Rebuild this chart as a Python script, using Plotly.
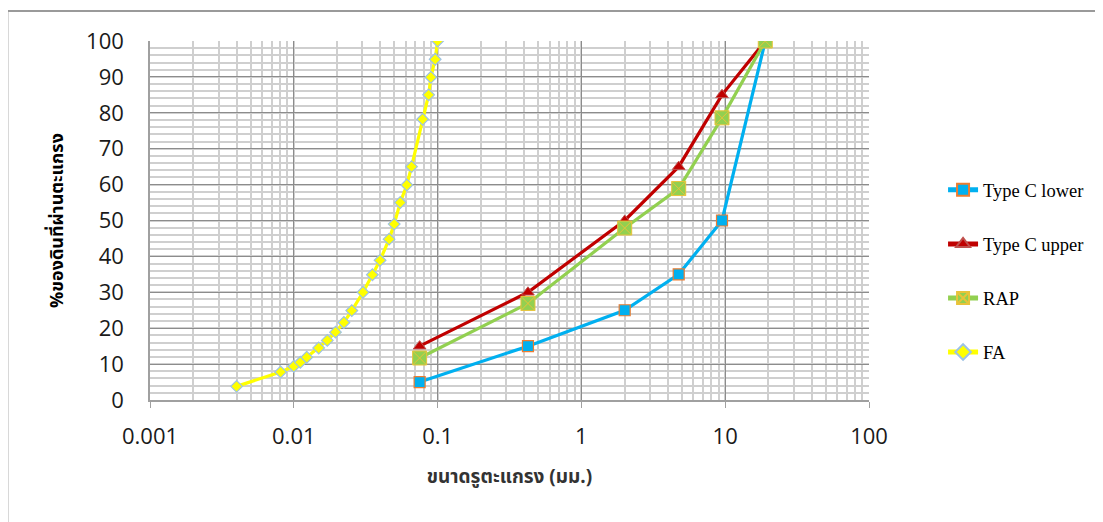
import plotly.graph_objects as go

# ---- data ----
sieve_typec = [0.075, 0.425, 2.0, 4.75, 9.5, 19.0]
typec_lower = [5, 15, 25, 35, 50, 100]
typec_upper = [15, 30, 50, 65, 85, 100]
rap_pass = [11.7, 26.9, 47.9, 58.9, 78.6, 100]

fa_size = [0.0040, 0.0081, 0.0100, 0.0111, 0.0123, 0.0149, 0.0171, 0.0195,
           0.0223, 0.0253, 0.0303, 0.0352, 0.0398, 0.0460, 0.0499, 0.0550,
           0.0611, 0.0659, 0.0787, 0.0866, 0.0898, 0.0962, 0.100]
fa_pass = [3.8, 7.8, 9.4, 10.5, 11.9, 14.5, 16.6, 18.9, 21.6, 24.9, 30.0,
           34.9, 38.9, 44.8, 49.0, 55.0, 59.9, 65.0, 78.2, 85.0, 89.9, 94.9, 100]

x_tickvals = [0.001, 0.01, 0.1, 1, 10, 100]
x_ticktext = ["0.001", "0.01", "0.1", "1", "10", "100"]
y_tickvals = [0, 10, 20, 30, 40, 50, 60, 70, 80, 90, 100]

series_names = ["Type C lower", "Type C upper", "RAP", "FA"]

THAI_FONT = "Noto Sans Thai, Tahoma, Loma, Garuda, DejaVu Sans, sans-serif"

fig = go.Figure()

fig.add_trace(go.Scatter(
    x=sieve_typec, y=typec_lower, name=series_names[0], legendgroup="a",
    mode="lines+markers",
    line=dict(color="#00B0F0", width=3.2),
    marker=dict(symbol="square", size=11, color="#00B0F0",
                line=dict(color="#ED7D31", width=1.2)),
))
fig.add_trace(go.Scatter(
    x=sieve_typec, y=typec_upper, name=series_names[1], legendgroup="b",
    mode="lines+markers",
    line=dict(color="#C00000", width=3.2),
    marker=dict(symbol="triangle-up", size=11, color="#C00000",
                line=dict(color="#C0504D", width=1)),
))
fig.add_trace(go.Scatter(
    x=sieve_typec, y=rap_pass, name=series_names[2], legendgroup="c",
    mode="lines+markers",
    line=dict(color="#92D050", width=3.2),
    marker=dict(symbol="square-x", size=14, color="#92D050",
                line=dict(color="#E8C33A", width=1)),
))
fig.add_trace(go.Scatter(
    x=fa_size, y=fa_pass, name=series_names[3], legendgroup="d",
    mode="lines+markers",
    line=dict(color="#FFFF00", width=3.2),
    marker=dict(symbol="diamond", size=9, color="#FFFF00",
                line=dict(color="#9DC3E6", width=1.2)),
))

# outer chart-area frame (top and left edges visible)
fig.add_shape(type="line", xref="paper", yref="paper",
              x0=-0.199, x1=1.5, y0=1.0834, y1=1.0834,
              line=dict(color="#9a9a9a", width=2))
fig.add_shape(type="line", xref="paper", yref="paper",
              x0=-0.198, x1=-0.198, y0=1.0834, y1=-0.5,
              line=dict(color="#9a9a9a", width=1.5))

fig.update_layout(
    width=1095, height=514,
    margin=dict(l=142, r=234, t=33, b=122, pad=0),
    paper_bgcolor="white", plot_bgcolor="white",
    showlegend=True,
    legend=dict(x=1.103, xanchor="left", y=0.637, yanchor="top",
                font=dict(family="Liberation Serif, Times New Roman, serif",
                          size=18.5, color="#000000"),
                tracegroupgap=27, bgcolor="rgba(0,0,0,0)",
                itemsizing="constant"),
    xaxis=dict(
        type="log", range=[-3, 2],
        tickmode="array", tickvals=x_tickvals, ticktext=x_ticktext,
        ticks="outside", ticklen=6, tickcolor="#a0a0a0",
        ticklabelstandoff=10,
        tickfont=dict(family="Open Sans, Liberation Sans, sans-serif", size=22, color="#1a1a1a"),
        showgrid=True, gridcolor="#8c8c8c", gridwidth=1,
        minor=dict(dtick="D1", showgrid=True, gridcolor="#cfcfcf", gridwidth=1.5),
        showline=True, linecolor="#a0a0a0", linewidth=1.5,
        mirror=False, zeroline=False,
        title=dict(text="<b>ขนาดรูตะแกรง (มม.)</b>", standoff=21,
                   font=dict(family=THAI_FONT, size=19, color="#333333")),
    ),
    yaxis=dict(
        range=[0, 100], tickmode="array", tickvals=y_tickvals,
        ticks="", ticklabelstandoff=20,
        tickfont=dict(family="Open Sans, Liberation Sans, sans-serif", size=22, color="#1a1a1a"),
        showgrid=True, gridcolor="#8c8c8c", gridwidth=1,
        minor=dict(dtick=2, showgrid=True, gridcolor="#cfcfcf", gridwidth=1.5),
        showline=True, linecolor="#a0a0a0", linewidth=1.5,
        zeroline=False,
        title=dict(text="<b>%ของดินที่ผ่านตะแกรง</b>", standoff=18,
                   font=dict(family=THAI_FONT, size=18, color="#000000")),
    ),
)

fig.write_html("out.html")
